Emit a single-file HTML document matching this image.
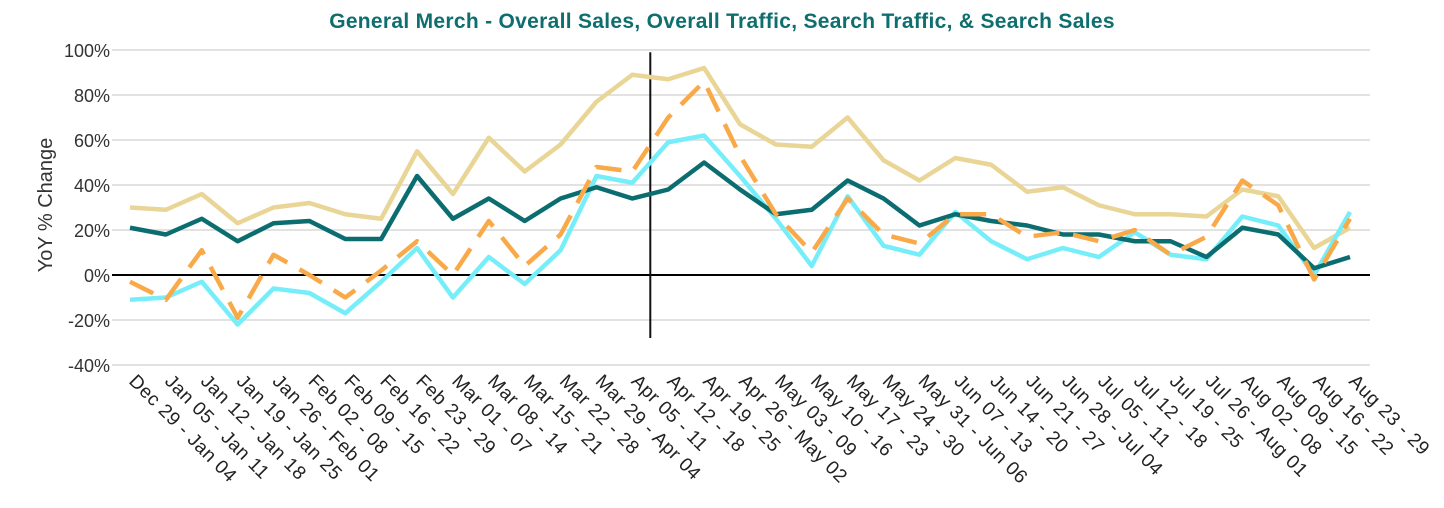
<!DOCTYPE html>
<html><head><meta charset="utf-8"><style>
body{margin:0;background:#fff;}
svg{display:block;font-family:"Liberation Sans",sans-serif;}
</style></head><body>
<svg id="chart" width="1444" height="508">
<text x="722" y="28" text-anchor="middle" font-size="21" font-weight="bold" fill="#0f6e6e" letter-spacing="0.3">General Merch - Overall Sales, Overall Traffic, Search Traffic, &amp; Search Sales</text>
<text transform="translate(52,205) rotate(-90)" text-anchor="middle" font-size="20" fill="#333">YoY % Change</text>
<g id="grid"></g><g id="ylabels"></g><g id="xlabels"></g><g id="series"></g>
</svg>
<script>
const categories=["Dec 29 - Jan 04","Jan 05 - Jan 11","Jan 12 - Jan 18","Jan 19 - Jan 25","Jan 26 - Feb 01","Feb 02 - 08","Feb 09 - 15","Feb 16 - 22","Feb 23 - 29","Mar 01 - 07","Mar 08 - 14","Mar 15 - 21","Mar 22 - 28","Mar 29 - Apr 04","Apr 05 - 11","Apr 12 - 18","Apr 19 - 25","Apr 26 - May 02","May 03 - 09","May 10 - 16","May 17 - 23","May 24 - 30","May 31 - Jun 06","Jun 07 - 13","Jun 14 - 20","Jun 21 - 27","Jun 28 - Jul 04","Jul 05 - 11","Jul 12 - 18","Jul 19 - 25","Jul 26 - Aug 01","Aug 02 - 08","Aug 09 - 15","Aug 16 - 22","Aug 23 - 29"];
const searchSales=[30,29,36,23,30,32,27,25,55,36,61,46,58,77,89,87,92,67,58,57,70,51,42,52,49,37,39,31,27,27,26,38,35,12,21];
const searchTraffic=[-11,-10,-3,-22,-6,-8,-17,-3,12,-10,8,-4,11,44,41,59,62,44,25,4,35,13,9,28,15,7,12,8,19,9,7,26,22,0,28];
const overallSales=[-3,-11,11,-19,9,0,-10,2,15,0,24,4,18,48,46,70,86,53,27,10,34,18,14,27,27,17,19,15,20,9,17,42,31,-2,25];
const overallTraffic=[21,18,25,15,23,24,16,16,44,25,34,24,34,39,34,38,50,38,27,29,42,34,22,27,24,22,18,18,15,15,8,21,18,3,8];
const yTicks=[-40,-20,0,20,40,60,80,100];
const NS="http://www.w3.org/2000/svg";
const x0=130,x1=1350,xL=112,xR=1370;
const xs=i=>x0+i*(x1-x0)/(categories.length-1);
const ys=v=>275-v*2.25;
function mk(t,a,p){const e=document.createElementNS(NS,t);for(const k in a)e.setAttribute(k,a[k]);document.getElementById(p).appendChild(e);return e;}
yTicks.forEach(v=>{
 const l=mk("line",{x1:xL,x2:xR,y1:ys(v),y2:ys(v),stroke:v===0?"#000":"#d9d9d9","stroke-width":v===0?2:1.5},"grid");
 
 
 const t=mk("text",{x:110,y:ys(v)+7,"text-anchor":"end","font-size":18,fill:"#333"},"ylabels");
 t.textContent=v+"%";
 
 
});
const vl=mk("line",{x1:(xs(14)+xs(15))/2,x2:(xs(14)+xs(15))/2,y1:ys(99),y2:ys(-28),stroke:"#111","stroke-width":2},"grid");


categories.forEach((c,i)=>{
 const t=mk("text",{transform:`translate(${xs(i)-2},${ys(-45)+6}) rotate(45)`,"font-size":19,"letter-spacing":"0.6",fill:"#222"},"xlabels");
 t.textContent=c;
 
 
});
function series(d,col,name,dash){
 const p=mk("polyline",{points:d.map((v,i)=>xs(i)+","+ys(v)).join(" "),fill:"none",stroke:col,"stroke-width":4.5,"stroke-linejoin":"round"},"series");
 if(dash)p.setAttribute("stroke-dasharray","26,14");
 
 
}
series(searchSales,"#e9d596","search-sales-line");
series(searchTraffic,"#76eefa","search-traffic-line");
series(overallTraffic,"#0b6d70","overall-traffic-line");
series(overallSales,"#f9a948","overall-sales-line",true);
</script>
</body></html>
